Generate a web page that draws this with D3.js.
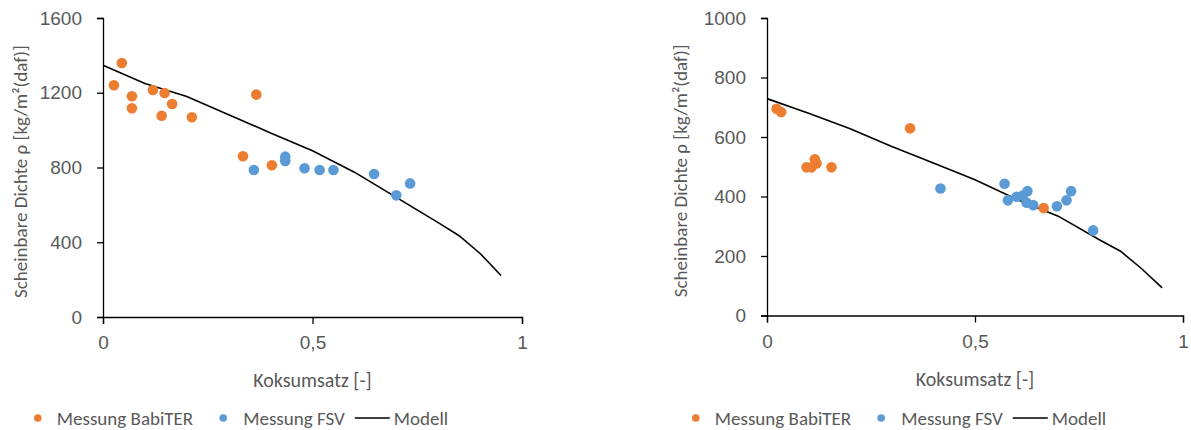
<!DOCTYPE html>
<html>
<head>
<meta charset="utf-8">
<script src="https://d3js.org/d3.v7.min.js"></script>
<style>
body { margin: 0; background: #fff; }
svg { display: block; font-family: Calibri, Carlito, Lato, sans-serif; }
.tick text, .title, .legend text { fill: #595959; }
</style>
</head>
<body>
<svg width="1191" height="430"></svg>
<script>
// ---- data ----
// left chart
var leftBabiX = [0.026, 0.045, 0.069, 0.069, 0.119, 0.147, 0.165, 0.140, 0.212, 0.366, 0.334, 0.403];
var leftBabiY = [1240, 1359, 1181, 1117, 1215, 1199, 1140, 1077, 1069, 1190, 860, 812];
var leftFsvX = [0.360, 0.435, 0.435, 0.481, 0.517, 0.550, 0.647, 0.700, 0.733];
var leftFsvY = [787, 858, 835, 796, 787, 787, 765, 651, 715];
var leftModelX = [0, 0.1, 0.2, 0.3, 0.4, 0.5, 0.6, 0.7, 0.8, 0.85, 0.9, 0.95];
var leftModelY = [1347, 1250, 1180, 1082, 985, 890, 775, 640, 505, 435, 340, 222];
var leftYTicks = [0, 400, 800, 1200, 1600];

// right chart
var rightBabiX = [0.023, 0.034, 0.095, 0.107, 0.115, 0.119, 0.155, 0.344, 0.665];
var rightBabiY = [695, 684, 498, 498, 525, 511, 498, 629, 361];
var rightFsvX = [0.417, 0.571, 0.579, 0.600, 0.615, 0.626, 0.624, 0.640, 0.697, 0.720, 0.731, 0.784];
var rightFsvY = [427, 443, 387, 399, 403, 418, 379, 371, 367, 387, 418, 286];
var rightModelX = [0, 0.1, 0.2, 0.3, 0.4, 0.5, 0.6, 0.7, 0.8, 0.85, 0.9, 0.95];
var rightModelY = [729, 680, 628, 568, 513, 456, 391, 334, 254, 216, 158, 93];
var rightYTicks = [0, 200, 400, 600, 800, 1000];

var xTicks = [0, 0.5, 1];
var xTickLabels = ["0", "0,5", "1"];
var xTitle = "Koksumsatz [-]";
var yTitle = "Scheinbare Dichte \u03c1 [kg/m\u00b2(daf)]";
var legendNames = ["Messung BabiTER", "Messung FSV", "Modell"];

var orange = "#ED7D31", blue = "#5B9BD5";

function zip(xs, ys) { return xs.map(function (x, i) { return [x, ys[i]]; }); }

var svg = d3.select("svg");

function drawChart(opt) {
	var g = svg.append("g");
	var x = d3.scaleLinear().domain([0, 1]).range([opt.x0, opt.x1]);
	var y = d3.scaleLinear().domain([0, opt.yMax]).range([opt.yBot, opt.yTop]);

	// axes
	var yAxis = g.append("g").attr("transform", "translate(" + opt.x0 + ",0)")
		.call(d3.axisLeft(y).tickValues(opt.yTicks).tickSize(6).tickPadding(15).tickFormat(d3.format("d")));
	var xAxis = g.append("g").attr("transform", "translate(0," + opt.yBot + ")")
		.call(d3.axisBottom(x).tickValues(xTicks).tickSize(7).tickPadding(12)
			.tickFormat(function (d, i) { return xTickLabels[i]; }));
	[xAxis, yAxis].forEach(function (a) {
		a.select(".domain").attr("stroke", "#000").attr("stroke-width", 1.3);
		a.selectAll(".tick line").attr("stroke", "#000").attr("stroke-width", 1.3);
		a.selectAll(".tick text").attr("font-size", 19).attr("font-family", null);
	});

	// model line
	var line = d3.line().x(function (d) { return x(d[0]); }).y(function (d) { return y(d[1]); });
	g.append("path").datum(zip(opt.modelX, opt.modelY))
		.attr("d", line).attr("fill", "none").attr("stroke", "#000").attr("stroke-width", 1.6);

	// points
	g.selectAll("circle.fsv").data(zip(opt.fsvX, opt.fsvY)).enter().append("circle")
		.attr("class", "fsv").attr("r", 5.3).attr("fill", blue)
		.attr("cx", function (d) { return x(d[0]); }).attr("cy", function (d) { return y(d[1]); });
	g.selectAll("circle.babi").data(zip(opt.babiX, opt.babiY)).enter().append("circle")
		.attr("class", "babi").attr("r", 5.3).attr("fill", orange)
		.attr("cx", function (d) { return x(d[0]); }).attr("cy", function (d) { return y(d[1]); });

	// titles
	g.append("text").attr("class", "title").attr("x", (opt.x0 + opt.x1) / 2).attr("y", opt.yBot + 70)
		.attr("text-anchor", "middle").attr("font-size", 20).text(xTitle);
	g.append("text").attr("class", "title")
		.attr("transform", "translate(" + opt.yTitleX + "," + ((opt.yTop + opt.yBot) / 2 + 4) + ") rotate(-90)")
		.attr("text-anchor", "middle").attr("font-size", 19).text(yTitle);

	// legend
	var lg = g.append("g").attr("class", "legend");
	var cy = 418, pos = 0;
	lg.append("circle").attr("cx", pos).attr("cy", cy).attr("r", 3.8).attr("fill", orange);
	pos += 19;
	var t1 = lg.append("text").attr("x", pos).attr("y", cy + 7).attr("font-size", 19).text(legendNames[0]);
	pos += t1.node().getComputedTextLength() + 30;
	lg.append("circle").attr("cx", pos).attr("cy", cy).attr("r", 3.8).attr("fill", blue);
	pos += 20;
	var t2 = lg.append("text").attr("x", pos).attr("y", cy + 7).attr("font-size", 19).text(legendNames[1]);
	pos += t2.node().getComputedTextLength() + 10;
	lg.append("line").attr("x1", pos).attr("x2", pos + 35).attr("y1", cy).attr("y2", cy)
		.attr("stroke", "#000").attr("stroke-width", 1.6);
	pos += 39;
	var t3 = lg.append("text").attr("x", pos).attr("y", cy + 7).attr("font-size", 19).text(legendNames[2]);
	pos += t3.node().getComputedTextLength();
	var left = -4, right = pos;
	lg.attr("transform", "translate(" + (opt.legendCenter - (left + right) / 2) + ",0)");
}

drawChart({
	x0: 103, x1: 522, yTop: 18, yBot: 317, yMax: 1600, yTicks: leftYTicks,
	babiX: leftBabiX, babiY: leftBabiY, fsvX: leftFsvX, fsvY: leftFsvY,
	modelX: leftModelX, modelY: leftModelY, yTitleX: 27, legendCenter: 241
});
drawChart({
	x0: 767, x1: 1183, yTop: 18, yBot: 315.5, yMax: 1000, yTicks: rightYTicks,
	babiX: rightBabiX, babiY: rightBabiY, fsvX: rightFsvX, fsvY: rightFsvY,
	modelX: rightModelX, modelY: rightModelY, yTitleX: 687, legendCenter: 899
});
</script>
</body>
</html>
